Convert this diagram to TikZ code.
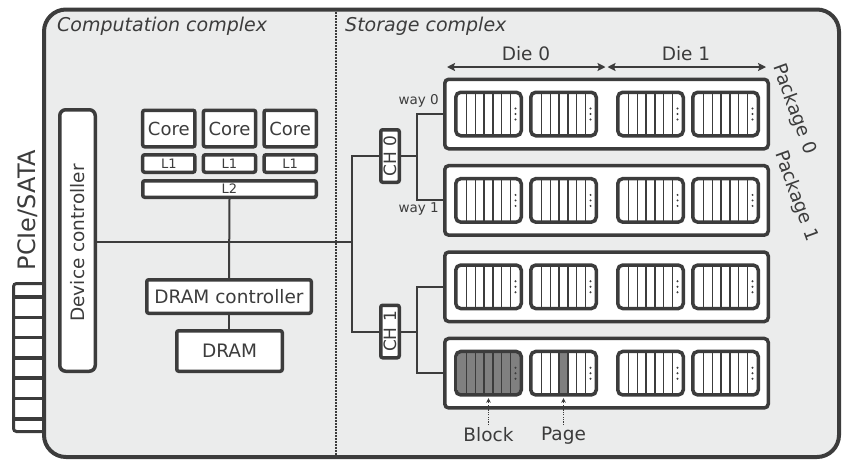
\documentclass[tikz,border=0pt]{standalone}
\usepackage{fontspec}
\setmainfont{DejaVu Sans}
\usetikzlibrary{arrows.meta,calc}
\definecolor{ink}{RGB}{60,60,60}
\definecolor{panel}{RGB}{235,236,236}
\definecolor{cellgray}{RGB}{128,128,128}
\newcommand\fs[1]{\fontsize{#1}{#1}\selectfont}

% One flash plane: name, left x, top y, extra drawing (shading) in local coordinates
\newcommand\flashplane[4]{%
  \begin{scope}[shift={(#2,#3)}]
    \fill[white, rounded corners=3pt] (1.75,1.75) rectangle (67.25,45.25);
    #4
    \foreach \k in {1,...,6}{
      \draw[ink, line width=1.3pt] ({3.5+8.857*\k},3) -- ({3.5+8.857*\k},44);
    }
    \foreach \dd in {-5.5,0,5.5}{
      \fill[ink] (61.5,23.5+\dd) circle (1.1pt);
    }
    \node[planebox] (#1) at (34.5,23.5) {};
  \end{scope}}

\begin{document}
\begin{tikzpicture}[x=1pt, y=-1pt,
  every node/.style={text=ink, inner sep=0pt},
  hw/.style={draw=ink, line width=3.5pt, fill=white, rounded corners=2pt, inner sep=0pt, font=\fs{18}},
  pkg/.style={draw=ink, line width=3.5pt, fill=white, rounded corners=4pt,
    minimum width=323.5pt, minimum height=69.5pt},
  planebox/.style={draw=ink, line width=3.5pt, rounded corners=5pt,
    minimum width=65.5pt, minimum height=43.5pt},
  wire/.style={draw=ink, line width=2pt},
  dim/.style={draw=ink, line width=2pt, {Stealth[length=8pt,width=8pt,inset=1.5pt]}-{Stealth[length=8pt,width=8pt,inset=1.5pt]}},
  pointer/.style={draw=ink, line width=1.2pt, dash pattern=on 1.2pt off 1.2pt, -{Stealth[length=4.5pt,width=4.5pt]}},
  caption/.style={font=\fs{18.5}}
]
\useasboundingbox (0,0) rectangle (845,459);

% PCIe/SATA edge connector
\draw[ink, line width=3pt, fill=white, rounded corners=3pt] (13.5,283.5) rectangle (52,431.5);
\foreach \yy in {297,317.3,337.6,357.9,378.2,398.5,418.8}{
  \draw[ink, line width=3.5pt] (13.5,\yy) -- (50,\yy);
}

% SSD enclosure
\draw[ink, line width=4pt, fill=panel, rounded corners=22pt] (44,9.5) rectangle (839,457);

% divider between the two complexes
\coordinate (divtop) at (336,12);
\coordinate (divbot) at (336,455);
\draw[ink, line width=1.5pt, dash pattern=on 1.5pt off 1.5pt] (divtop) -- (divbot);

\node[anchor=base west, font=\fs{19}\itshape] (ctitle) at (57,31.5) {Computation complex};
\node[anchor=base west, font=\fs{19}\itshape] (stitle) at (345,31.5) {Storage complex};

\node[rotate=90, font=\fs{24}] (pcielbl) at (27.5,210) {PCIe/SATA};

% device controller
\node[hw, rounded corners=6pt, minimum width=35.5pt, minimum height=261.5pt] (devc) at (77.5,240.5) {};
\node[rotate=90, font=\fs{18.5}] (devclbl) at (78,243) {Device controller};

% cores and caches
\foreach \i/\cx in {1/168.8,2/229.5,3/290.2}{
  \node[hw, minimum width=52.2pt, minimum height=36.5pt] (core\i) at (\cx,128.5) {Core};
  \node[hw, minimum width=52.2pt, minimum height=17.5pt, font=\fs{13}] (lone\i) at (\cx,163.5) {L1};
}
\node[hw, minimum width=173.5pt, minimum height=16.5pt, font=\fs{13}] (ltwo) at (229.5,189) {L2};

% DRAM
\node[hw, minimum width=164.5pt, minimum height=33.5pt, font=\fs{18.5}] (dramc) at (229,296.5) {DRAM controller};
\node[hw, minimum width=105.5pt, minimum height=40.5pt, font=\fs{18.5}] (dram) at (229.5,351) {DRAM};

% channels
\node[hw, minimum width=18.5pt, minimum height=52.5pt] (ch0) at (390,156) {};
\node[rotate=90, font=\fs{17}] (ch0lbl) at (ch0.center) {CH 0};
\node[hw, minimum width=18.5pt, minimum height=52.5pt] (ch1) at (390,331.5) {};
\node[rotate=90, font=\fs{17}] (ch1lbl) at (ch1.center) {CH 1};

% packages with their planes
\node[pkg] (pkg0) at (606.5,114) {};
\node[pkg] (pkg1) at (606.5,200.4) {};
\node[pkg] (pkg2) at (606.5,286.8) {};
\node[pkg] (pkg3) at (606.5,373.2) {};
\foreach \p/\cy in {0/114,1/200.4,2/286.8}{
  \foreach \q/\qx in {0/454,1/529,2/616,3/691}{
    \flashplane{pl\p\q}{\qx}{\cy-23.5}{}
  }
}
\flashplane{pl30}{454}{349.7}{\fill[cellgray] (3.5,3.5) rectangle (65.5,43.5);}
\flashplane{pl31}{529}{349.7}{\fill[cellgray] (30.07,3.5) rectangle (38.93,43.5);}
\flashplane{pl32}{616}{349.7}{}
\flashplane{pl33}{691}{349.7}{}

% interconnect
\coordinate (bus) at (352,242);
\draw[wire] (ltwo.south) -- (dramc.north);
\draw[wire] (dramc.south) -- (dramc.south |- dram.north);
\draw[wire] (devc.east |- bus) -- (bus);
\draw[wire] (ch0.west) -| (bus) |- (ch1.west);
\coordinate (w0) at (417,156);
\coordinate (w1) at (417,331.5);
\draw[wire] (ch0.east) -- (w0);
\draw[wire] (pkg0.west) -| (w0) |- (pkg1.west);
\draw[wire] (ch1.east) -- (w1);
\draw[wire] (pkg2.west) -| (w1) |- (pkg3.west);

\node[anchor=base east, font=\fs{13.5}] (way0) at (439,104.5) {way 0};
\node[anchor=base east, font=\fs{13.5}] (way1) at (439,212) {way 1};

% die spans
\coordinate (die0l) at (447,67);
\coordinate (die0r) at (605.5,67);
\coordinate (die1l) at (607.5,67);
\coordinate (die1r) at (766,67);
\draw[dim] (die0l) -- (die0r);
\draw[dim] (die1l) -- (die1r);
\node[caption, anchor=base] (die0lbl) at (526,60) {Die 0};
\node[caption, anchor=base] (die1lbl) at (686,60) {Die 1};

\node[caption, rotate=-70] (pkg0lbl) at (794,109) {Package 0};
\node[caption, rotate=-70] (pkg1lbl) at (796,196) {Package 1};

% block / page callouts
\node[caption, anchor=north] (blocklbl) at (488.5,427) {Block};
\node[caption, anchor=north] (pagelbl) at (563.5,427) {Page};
\draw[pointer] ([yshift=2pt]blocklbl.north) -- ([yshift=-1.5pt]pl30.south);
\draw[pointer] ([yshift=2pt]pagelbl.north) -- ([yshift=-1.5pt]pagelbl.north |- pl31.south);
\end{tikzpicture}
\end{document}
